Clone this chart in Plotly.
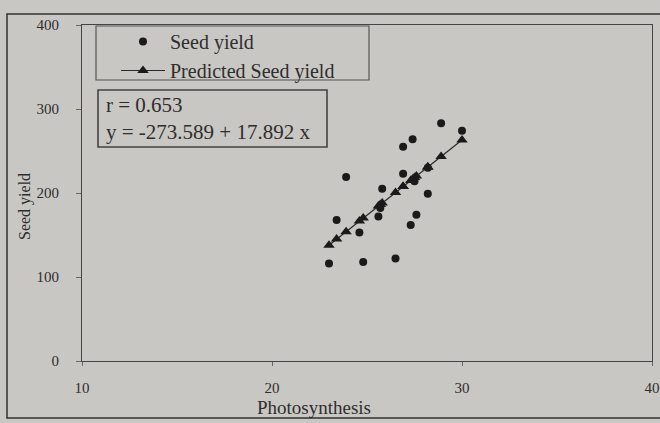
import plotly.graph_objects as go

# Data
photosynthesis = [23.0, 23.4, 23.9, 24.6, 24.8, 25.6, 25.7, 25.8, 26.5, 26.9,
                  26.9, 27.3, 27.4, 27.5, 27.6, 28.2, 28.2, 28.9, 30.0]
seed_yield = [116, 168, 219, 153, 118, 172, 182, 205, 122, 255,
              223, 162, 264, 214, 174, 230, 199, 283, 274]
predicted = [137.9, 145.1, 154.0, 166.6, 170.1, 184.5, 186.2, 188.0, 200.6, 207.7,
             207.7, 214.9, 216.7, 218.4, 220.2, 231.0, 231.0, 243.5, 263.2]

x_ticks = [10, 20, 30, 40]
y_ticks = [0, 100, 200, 300, 400]
stats_text = "r = 0.653<br>y = -273.589 + 17.892 x"

BG = "#c9c7c3"
INK = "#2e2e2e"
FONT = "Liberation Serif"

L, R, T, B = 82, 8, 25, 62
PW, PH = 660 - L - R, 423 - T - B


def px_x(p):
    return (p - L) / PW


def px_y(p):
    return (423 - B - p) / PH


fig = go.Figure()
fig.add_trace(go.Scatter(
    x=photosynthesis, y=seed_yield, mode="markers", name="Seed yield",
    marker=dict(symbol="circle", size=8, color="#1a1a1a"),
))
fig.add_trace(go.Scatter(
    x=photosynthesis, y=predicted, mode="lines+markers", name="Predicted Seed yield",
    line=dict(color="#2a2a2a", width=1.2),
    marker=dict(symbol="triangle-up", size=10, color="#1a1a1a"),
))

fig.update_layout(
    width=660, height=423,
    margin=dict(l=L, r=R, t=T, b=B, autoexpand=False),
    paper_bgcolor=BG, plot_bgcolor=BG,
    font=dict(family=FONT, color=INK, size=15),
    showlegend=True,
    legend=dict(
        x=px_x(116), y=px_y(22), xanchor="left", yanchor="top",
        bgcolor="rgba(0,0,0,0)", borderwidth=0,
        font=dict(family=FONT, size=20, color=INK),
        itemwidth=44, tracegroupgap=0,
    ),
    xaxis=dict(
        range=[10, 40], tickvals=x_ticks, ticktext=[str(v) for v in x_ticks],
        showgrid=False, zeroline=False, automargin=False,
        showline=True, linecolor="#444", linewidth=1.2, mirror=True,
        ticks="outside", ticklen=4, tickcolor="#666",
        ticklabelstandoff=9,
        tickfont=dict(family=FONT, size=15, color=INK),
    ),
    yaxis=dict(
        range=[0, 400], tickvals=y_ticks, ticktext=[str(v) for v in y_ticks],
        showgrid=False, zeroline=False, automargin=False,
        showline=True, linecolor="#444", linewidth=1.2, mirror=True,
        ticks="outside", ticklen=5, tickcolor="#666",
        ticklabelstandoff=14,
        tickfont=dict(family=FONT, size=15, color=INK),
    ),
    shapes=[
        dict(
            type="rect", xref="paper", yref="paper",
            x0=px_x(7), x1=px_x(664), y0=px_y(418), y1=px_y(14),
            line=dict(color="#333", width=1.5), fillcolor="rgba(0,0,0,0)", layer="below",
        ),
        dict(
            type="rect", xref="paper", yref="paper",
            x0=px_x(96), x1=px_x(369), y0=px_y(80), y1=px_y(26),
            line=dict(color="#555", width=1.2), fillcolor="rgba(0,0,0,0)",
        ),
        dict(
            type="rect", xref="paper", yref="paper",
            x0=px_x(98), x1=px_x(327), y0=px_y(147), y1=px_y(90),
            line=dict(color="#444", width=1.6), fillcolor=BG,
        ),
    ],
    annotations=[
        dict(
            text=stats_text, xref="paper", yref="paper",
            x=px_x(104), y=px_y(118.5), xanchor="left", yanchor="middle",
            showarrow=False, align="left",
            font=dict(family=FONT, size=21, color=INK),
        ),
        dict(
            text="Photosynthesis", xref="paper", yref="paper",
            x=px_x(314), y=px_y(407), xanchor="center", yanchor="middle",
            showarrow=False, font=dict(family=FONT, size=19, color=INK),
        ),
        dict(
            text="Seed yield", xref="paper", yref="paper",
            x=px_x(25), y=px_y(207), xanchor="center", yanchor="middle",
            showarrow=False, textangle=-90, font=dict(family=FONT, size=16, color=INK),
        ),
    ],
)

fig.write_html(
    "out.html",
    config={"displayModeBar": False},
    post_script="document.body.style.margin='0';document.body.style.background='" + BG + "';",
)
